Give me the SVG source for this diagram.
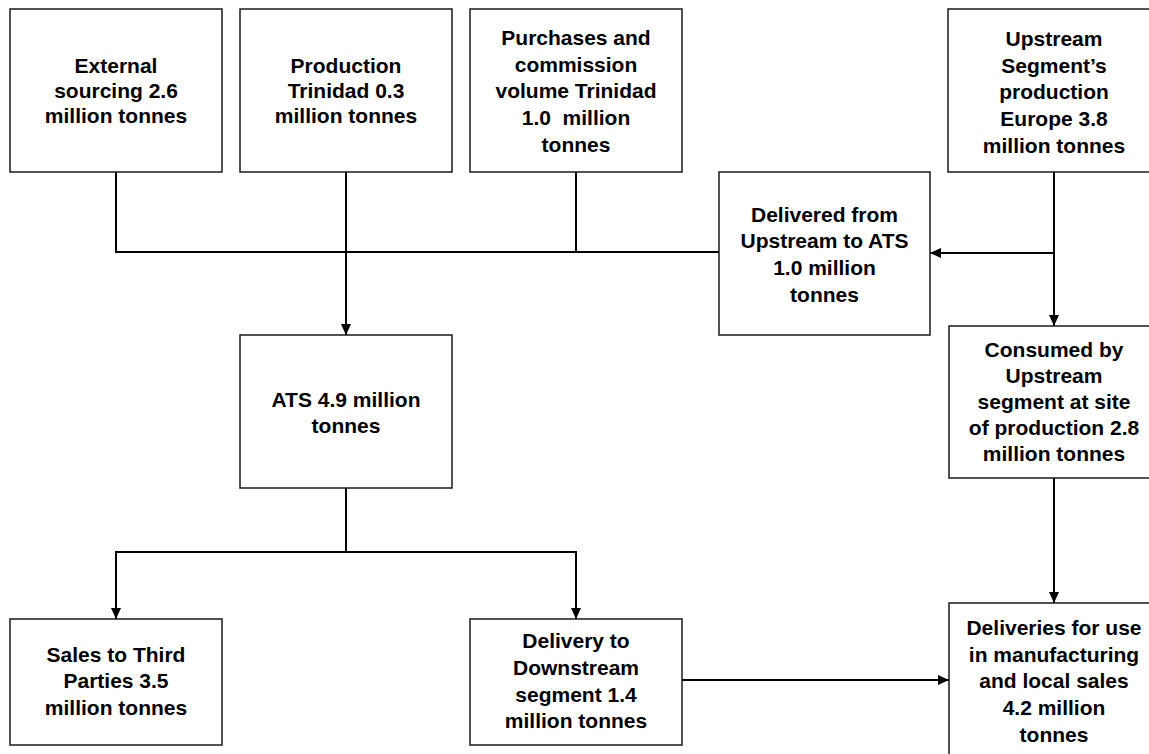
<svg xmlns="http://www.w3.org/2000/svg" width="1149" height="754" viewBox="0 0 1149 754">
<style>
.box{fill:#fff;stroke:#1a1a1a;stroke-width:1.5}
.t{font-family:"Liberation Sans",Arial,sans-serif;font-weight:bold;font-size:21px;fill:#000;text-anchor:middle}
.c{fill:none;stroke:#000;stroke-width:2}
</style>
<defs>
<marker id="ah" markerUnits="userSpaceOnUse" markerWidth="12" markerHeight="12" viewBox="0 0 12 12" refX="11" refY="6" orient="auto">
<path d="M0,1 L11,6 L0,11 Z" fill="#000"/>
</marker>
</defs>
<rect width="1149" height="754" fill="#fff"/>
<g id="connectors">
<path class="c" d="M116,172 V252 H719"/>
<path class="c" d="M576,172 V252"/>
<path class="c" d="M346,172 V335" marker-end="url(#ah)"/>
<path class="c" d="M1054,172 V326" marker-end="url(#ah)"/>
<path class="c" d="M1054,253 H930" marker-end="url(#ah)"/>
<path class="c" d="M346,488 V552"/>
<path class="c" d="M346,552 H116 V619" marker-end="url(#ah)"/>
<path class="c" d="M346,552 H576 V619" marker-end="url(#ah)"/>
<path class="c" d="M682,680 H949" marker-end="url(#ah)"/>
<path class="c" d="M1054,478 V603" marker-end="url(#ah)"/>
</g>
<g id="external">
<rect class="box" x="10" y="9" width="212" height="163"/>
<text class="t" x="116" y="73">External</text>
<text class="t" x="116" y="98">sourcing 2.6</text>
<text class="t" x="116" y="123">million tonnes</text>
</g>
<g id="production">
<rect class="box" x="240" y="9" width="212" height="163"/>
<text class="t" x="346" y="73">Production</text>
<text class="t" x="346" y="98">Trinidad 0.3</text>
<text class="t" x="346" y="123">million tonnes</text>
</g>
<g id="purchases">
<rect class="box" x="470" y="9" width="212" height="163"/>
<text class="t" x="576" y="45">Purchases and</text>
<text class="t" x="576" y="72">commission</text>
<text class="t" x="576" y="98">volume Trinidad</text>
<text class="t" x="576" y="125" xml:space="preserve">1.0  million</text>
<text class="t" x="576" y="152">tonnes</text>
</g>
<g id="upstream">
<rect class="box" x="948" y="9" width="212" height="163"/>
<text class="t" x="1054" y="46">Upstream</text>
<text class="t" x="1054" y="73">Segment’s</text>
<text class="t" x="1054" y="99">production</text>
<text class="t" x="1054" y="126">Europe 3.8</text>
<text class="t" x="1054" y="153">million tonnes</text>
</g>
<g id="delivered">
<rect class="box" x="719" y="172" width="211" height="163"/>
<text class="t" x="824.5" y="222">Delivered from</text>
<text class="t" x="824.5" y="248">Upstream to ATS</text>
<text class="t" x="824.5" y="275">1.0 million</text>
<text class="t" x="824.5" y="302">tonnes</text>
</g>
<g id="ats">
<rect class="box" x="240" y="335" width="212" height="153"/>
<text class="t" x="346" y="407">ATS 4.9 million</text>
<text class="t" x="346" y="433">tonnes</text>
</g>
<g id="consumed">
<rect class="box" x="949" y="326" width="212" height="152"/>
<text class="t" x="1054" y="357">Consumed by</text>
<text class="t" x="1054" y="383">Upstream</text>
<text class="t" x="1054" y="409">segment at site</text>
<text class="t" x="1054" y="435">of production 2.8</text>
<text class="t" x="1054" y="461">million tonnes</text>
</g>
<g id="sales">
<rect class="box" x="10" y="619" width="212" height="126"/>
<text class="t" x="116" y="662">Sales to Third</text>
<text class="t" x="116" y="688">Parties 3.5</text>
<text class="t" x="116" y="715">million tonnes</text>
</g>
<g id="downstream">
<rect class="box" x="470" y="619" width="212" height="126"/>
<text class="t" x="576" y="648">Delivery to</text>
<text class="t" x="576" y="675">Downstream</text>
<text class="t" x="576" y="702">segment 1.4</text>
<text class="t" x="576" y="728">million tonnes</text>
</g>
<g id="deliveries">
<rect class="box" x="949" y="603" width="212" height="165"/>
<text class="t" x="1054" y="635">Deliveries for use</text>
<text class="t" x="1054" y="662">in manufacturing</text>
<text class="t" x="1054" y="688">and local sales</text>
<text class="t" x="1054" y="715">4.2 million</text>
<text class="t" x="1054" y="742">tonnes</text>
</g>
</svg>
